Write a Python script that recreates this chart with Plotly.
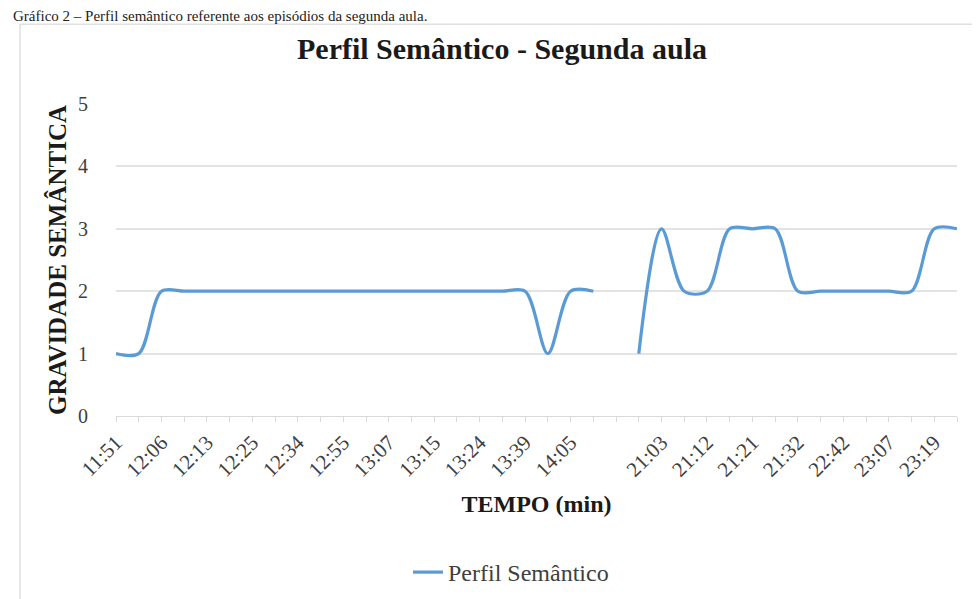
import plotly.graph_objects as go

# Data
shown_labels = ["11:51", "12:06", "12:13", "12:25", "12:34", "12:55", "13:07", "13:15",
                "13:24", "13:39", "14:05", "", "21:03", "21:12", "21:21", "21:32",
                "22:42", "23:07", "23:19"]
gravidade = [1, 1, 2, 2, 2, 2, 2, 2, 2, 2, 2, 2, 2, 2, 2, 2, 2, 2, 2, 1, 2, 2,
             None, 1, 3, 2, 2, 3, 3, 3, 2, 2, 2, 2, 2, 2, 3, 3]

n = len(gravidade)
x_idx = list(range(n))
tick_text = []
for i in range(n):
    tick_text.append(shown_labels[i // 2] if i % 2 == 0 else "")

W, H = 980, 599
L, R, T, B = 108, 949, 96, 413
def px(x):
    return (x - L) / (R - L)
def py(y):
    return (B - y) / (B - T)

serif = "Liberation Serif"

fig = go.Figure()
fig.add_trace(go.Scatter(
    x=x_idx, y=gravidade, mode="lines", name="Perfil Semântico",
    line=dict(color="#5B9BD5", width=3.2, shape="spline", smoothing=0.9),
    connectgaps=False,
))

fig.update_layout(
    width=W, height=H,
    margin=dict(l=L, r=W - R, t=T, b=H - B),
    paper_bgcolor="white", plot_bgcolor="white",
    font=dict(family=serif, color="#404040", size=17),
    title=dict(text="<b>Perfil Semântico - Segunda aula</b>", x=px(494), xanchor="center",
               xref="paper", y=1 - 40 / H, yanchor="middle",
               font=dict(family=serif, size=30, color="#1a1a1a")),
    showlegend=True,
    legend=dict(orientation="h", x=px(503), xanchor="center", y=py(572), yanchor="middle",
                font=dict(family=serif, size=24, color="#404040")),
    xaxis=dict(range=[0, n - 1], tickmode="array", tickvals=x_idx, ticktext=tick_text,
               tickangle=-45, showgrid=False, zeroline=False,
               showline=True, linecolor="#D9D9D9", linewidth=1,
               ticks="outside", ticklen=5, tickcolor="#D9D9D9",
               tickfont=dict(family=serif, size=21, color="#404040"),
               title=dict(text="<b>TEMPO (min)</b>", standoff=14,
                          font=dict(family=serif, size=24, color="#1a1a1a"))),
    yaxis=dict(range=[0, 5], dtick=1, showgrid=True, gridcolor="#E3E3E3", gridwidth=1.5,
               zeroline=False, showline=False, ticks="", ticklabelstandoff=27,
               tickfont=dict(family=serif, size=20, color="#404040"),
               title=dict(text="<b>GRAVIDADE SEMÂNTICA</b>", standoff=4,
                          font=dict(family=serif, size=25, color="#1a1a1a"))),
    shapes=[dict(type="rect", xref="paper", yref="paper",
                 x0=px(12), x1=px(990), y0=py(610), y1=py(15),
                 line=dict(color="#E0E0E0", width=1.5), layer="below")],
    annotations=[dict(text="Gráfico 2 – Perfil semântico referente aos episódios da segunda aula.",
                      xref="paper", yref="paper", x=px(3), y=py(7), xanchor="left",
                      yanchor="middle", showarrow=False,
                      font=dict(family=serif, size=15, color="#222222"))],
)

fig.write_html("out.html")
